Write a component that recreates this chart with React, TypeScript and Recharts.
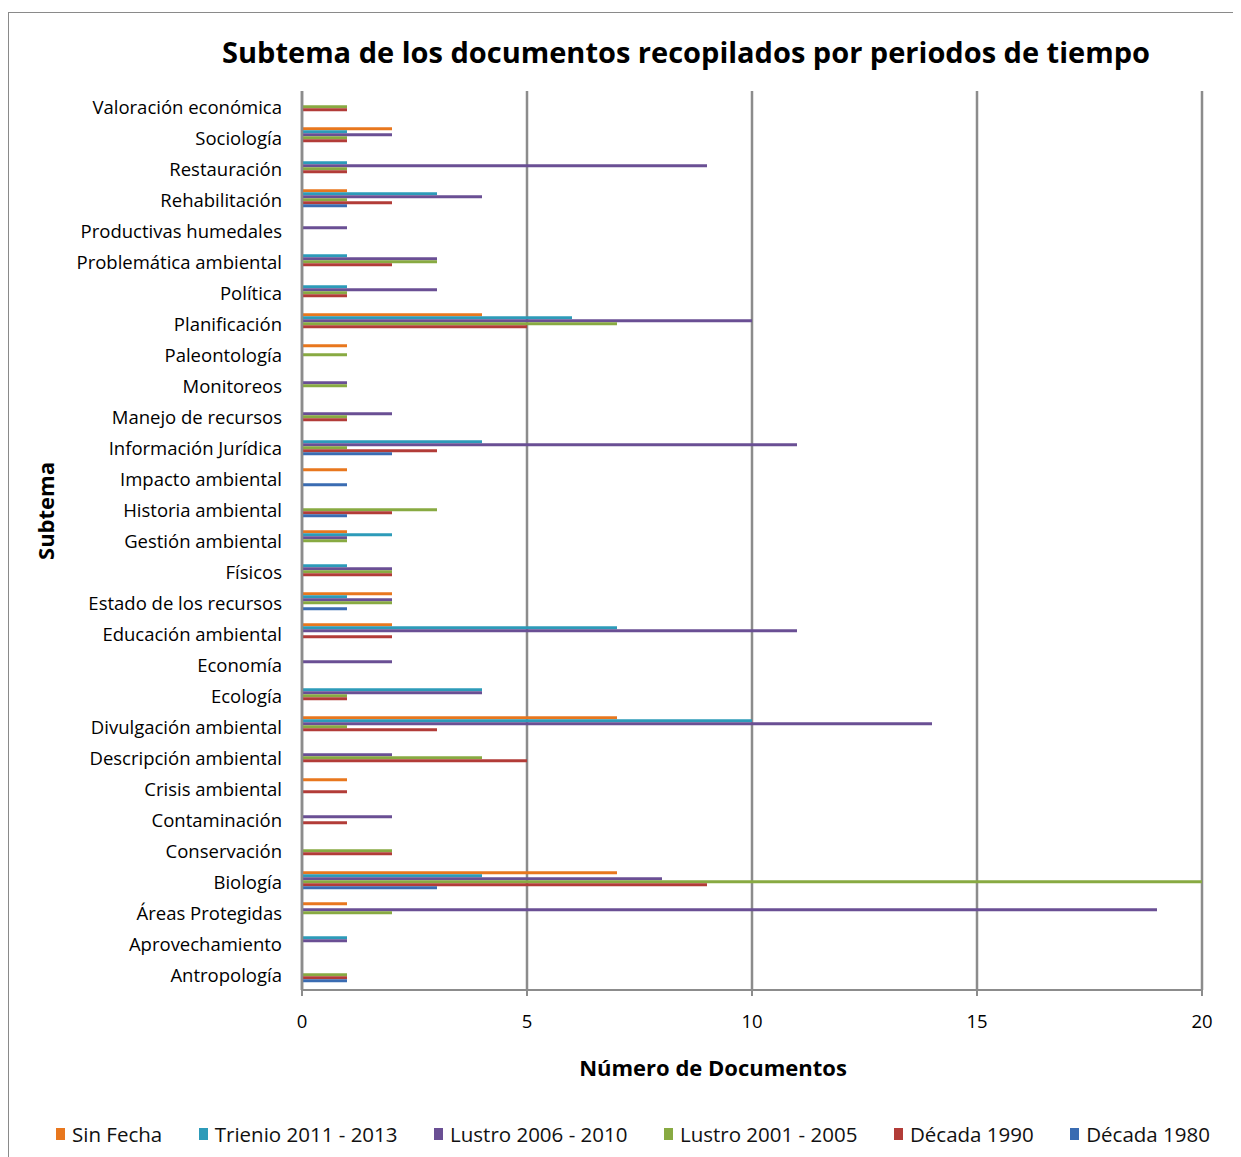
import React from 'react';
import { BarChart, Bar, XAxis, YAxis, CartesianGrid, Legend } from 'recharts';

const CATEGORIES = [
  'Valoración económica', 'Sociología', 'Restauración', 'Rehabilitación', 'Productivas humedales',
  'Problemática ambiental', 'Política', 'Planificación', 'Paleontología', 'Monitoreos',
  'Manejo de recursos', 'Información Jurídica', 'Impacto ambiental', 'Historia ambiental', 'Gestión ambiental',
  'Físicos', 'Estado de los recursos', 'Educación ambiental', 'Economía', 'Ecología',
  'Divulgación ambiental', 'Descripción ambiental', 'Crisis ambiental', 'Contaminación', 'Conservación',
  'Biología', 'Áreas Protegidas', 'Aprovechamiento', 'Antropología',
];

const SIN_FECHA = [0, 2, 0, 1, 0, 0, 0, 4, 1, 0, 0, 0, 1, 0, 1, 0, 2, 2, 0, 0, 7, 0, 1, 0, 0, 7, 1, 0, 0];
const TRIENIO_2011_2013 = [0, 1, 1, 3, 0, 1, 1, 6, 0, 0, 0, 4, 0, 0, 2, 1, 1, 7, 0, 4, 10, 0, 0, 0, 0, 4, 0, 1, 0];
const LUSTRO_2006_2010 = [0, 2, 9, 4, 1, 3, 3, 10, 0, 1, 2, 11, 0, 0, 1, 2, 2, 11, 2, 4, 14, 2, 0, 2, 0, 8, 19, 1, 0];
const LUSTRO_2001_2005 = [1, 1, 1, 1, 0, 3, 1, 7, 1, 1, 1, 1, 0, 3, 1, 2, 2, 0, 0, 1, 1, 4, 0, 0, 2, 20, 2, 0, 1];
const DECADA_1990 = [1, 1, 1, 2, 0, 2, 1, 5, 0, 0, 1, 3, 0, 2, 0, 2, 0, 2, 0, 1, 3, 5, 1, 1, 2, 9, 0, 0, 1];
const DECADA_1980 = [0, 0, 0, 1, 0, 0, 0, 0, 0, 0, 0, 2, 1, 1, 0, 0, 1, 0, 0, 0, 0, 0, 0, 0, 0, 3, 0, 0, 1];

const X_TICKS = [0, 5, 10, 15, 20];
const BOUNDARY_TICKS = CATEGORIES.map((_, i) => i).concat([CATEGORIES.length]);

const SERIES = [
  { key: 'sf', name: 'Sin Fecha', values: SIN_FECHA, color: '#E8771E' },
  { key: 'tr', name: 'Trienio 2011 - 2013', values: TRIENIO_2011_2013, color: '#2D9BB9' },
  { key: 'l06', name: 'Lustro 2006 - 2010', values: LUSTRO_2006_2010, color: '#6A4F94' },
  { key: 'l01', name: 'Lustro 2001 - 2005', values: LUSTRO_2001_2005, color: '#88AA42' },
  { key: 'd90', name: 'Década 1990', values: DECADA_1990, color: '#B23C38' },
  { key: 'd80', name: 'Década 1980', values: DECADA_1980, color: '#3A6CB2' },
];

const data = CATEGORIES.map((c, i) => {
  const row: Record<string, string | number> = { subtema: c };
  SERIES.forEach((s) => { row[s.key] = s.values[i]; });
  return row;
});

const FONT = '"Open Sans", "Noto Sans", sans-serif';
const GRID = '#8C8C8C';

const renderLegend = () => (
  <div
    style={{
      height: 30,
      width: 1154,
      marginLeft: 47,
      display: 'flex',
      justifyContent: 'space-between',
      alignItems: 'center',
      fontFamily: FONT,
      fontSize: 20.5,
      color: '#111',
    }}
  >
    {SERIES.map((s) => (
      <div key={s.key} style={{ display: 'flex', alignItems: 'center' }}>
        <span style={{ display: 'inline-block', width: 9, height: 12, background: s.color, marginRight: 7 }} />
        <span>{s.name}</span>
      </div>
    ))}
  </div>
);

const CategoryTick = (props: any) => {
  const { x, y, payload } = props;
  return (
    <text
      x={x}
      y={y}
      textAnchor="end"
      dominantBaseline="central"
      fontFamily={FONT}
      fontSize={18.5}
      fill="#000"
    >
      {payload.value}
    </text>
  );
};

export default function App() {
  return (
    <div
      style={{
        position: 'relative',
        width: 1240,
        height: 1160,
        marginLeft: -1,
        marginTop: 4,
        borderTop: '1.5px solid #8a8a8a',
        borderLeft: '2px solid #8a8a8a',
        background: '#fff',
      }}
    >
      <div
        style={{
          position: 'absolute',
          left: 0,
          width: 1354,
          top: 19,
          textAlign: 'center',
          fontFamily: FONT,
          fontWeight: 700,
          fontSize: 29,
          color: '#000',
          zIndex: 2,
        }}
      >
        Subtema de los documentos recopilados por periodos de tiempo
      </div>
      <BarChart
        width={1225}
        height={1160}
        data={data}
        layout="vertical"
        margin={{ top: 78, right: 32, bottom: 24, left: 19 }}
        barCategoryGap="17%"
        barGap={0}
      >
        <CartesianGrid horizontal={false} vertical stroke={GRID} strokeWidth={2.5} xAxisId="x" yAxisId="cat" />
        <XAxis
          xAxisId="x"
          type="number"
          domain={[0, 20]}
          ticks={X_TICKS}
          interval={0}
          height={129}
          axisLine={{ stroke: GRID, strokeWidth: 2 }}
          tickLine={{ stroke: GRID, strokeWidth: 2 }}
          tickSize={6}
          tickMargin={19}
          tick={{ fill: '#000', fontSize: 18.5, fontFamily: FONT }}
          label={(props: any) => {
            const vb = props.viewBox || {};
            return (
              <text
                x={704}
                y={(vb.y ?? 977) + 77}
                textAnchor="middle"
                dominantBaseline="central"
                fontFamily={FONT}
                fontWeight={700}
                fontSize={22}
                fill="#000"
              >
                Número de Documentos
              </text>
            );
          }}
        />
        <YAxis
          yAxisId="bounds"
          type="number"
          domain={[0, CATEGORIES.length]}
          ticks={BOUNDARY_TICKS}
          interval={0}
          width={0}
          axisLine={false}
          tick={false}
          tickLine={{ stroke: GRID, strokeWidth: 2 }}
          tickSize={6}
          allowDataOverflow
        />
        <YAxis
          yAxisId="cat"
          type="category"
          dataKey="subtema"
          width={274}
          interval={0}
          axisLine={{ stroke: GRID, strokeWidth: 2.5 }}
          tickLine={false}
          tickSize={0}
          tickMargin={20}
          tick={<CategoryTick />}
          label={() => (
            <text
              x={36}
              y={498}
              transform="rotate(-90 36 498)"
              textAnchor="middle"
              dominantBaseline="central"
              fontFamily={FONT}
              fontWeight={700}
              fontSize={22}
              fill="#000"
            >
              Subtema
            </text>
          )}
        />
        <Legend verticalAlign="bottom" align="left" wrapperStyle={{ left: 0, width: 1225 }} content={renderLegend} />
        {SERIES.map((s) => (
          <Bar
            key={s.key}
            dataKey={s.key}
            name={s.name}
            fill={s.color}
            xAxisId="x"
            yAxisId="cat"
            isAnimationActive={false}
          />
        ))}
      </BarChart>
    </div>
  );
}
